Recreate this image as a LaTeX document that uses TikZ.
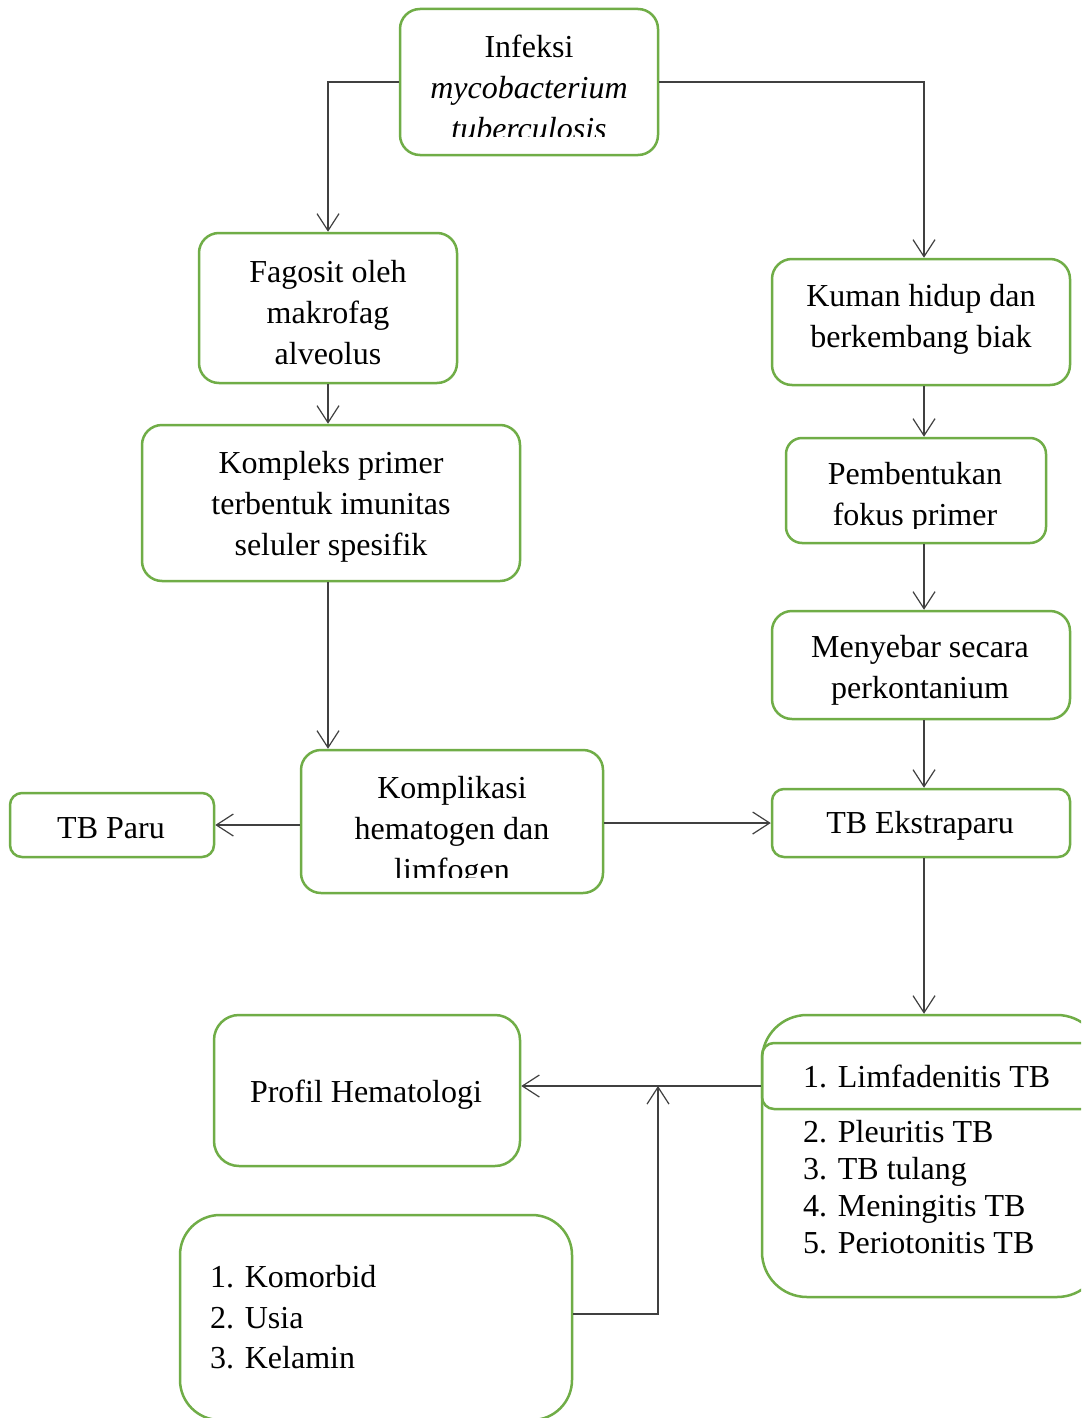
\documentclass[tikz,border=0pt]{standalone}
\usepackage{fontspec}
\setmainfont{Liberation Serif}
\usetikzlibrary{arrows.meta}
\definecolor{boxgreen}{HTML}{70AD47}
\definecolor{lin}{HTML}{404040}
\begin{document}
\begin{tikzpicture}[x=1pt,y=-1pt,
 box/.style={draw=boxgreen,line width=2.5pt,rounded corners=20pt,inner sep=0pt},
 txt/.style={font=\fontsize{32}{41}\selectfont,align=center,inner sep=0pt},
 ltxt/.style={font=\fontsize{32}{41}\selectfont,align=left,inner sep=0pt,anchor=base west},
 arr/.style={draw=lin,line width=1.2pt,-{Straight Barb[length=17pt,width=22pt,line width=1.2pt]}},
 con/.style={draw=lin,line width=1.2pt}]
\useasboundingbox (0,0) rectangle (1081,1418);
\clip (0,0) rectangle (1081,1418);
\fill[white] (0,0) rectangle (1081,1418);
% boxes
\node[box,minimum width=258pt,minimum height=146pt] (inf) at (529,82) {};
\node[box,minimum width=258pt,minimum height=150pt] (fag) at (328,308) {};
\node[box,minimum width=378pt,minimum height=156pt] (kpx) at (331,503) {};
\node[box,minimum width=302pt,minimum height=143pt] (kpl) at (452,821.5) {};
\node[box,minimum width=204pt,minimum height=64pt,rounded corners=12pt] (paru) at (112,825) {};
\node[box,minimum width=298pt,minimum height=126pt] (kum) at (921,322) {};
\node[box,minimum width=260pt,minimum height=105pt,rounded corners=16pt] (pem) at (916,490.5) {};
\node[box,minimum width=298pt,minimum height=108pt] (men) at (921,665) {};
\node[box,minimum width=298pt,minimum height=68pt,rounded corners=12pt] (eks) at (921,823) {};
\node[box,minimum width=340pt,minimum height=282pt,rounded corners=45pt] (big) at (932,1156) {};
\node[box,minimum width=340pt,minimum height=66pt,rounded corners=12pt] (lim) at (932,1076) {};
\node[box,minimum width=306pt,minimum height=151pt,rounded corners=25pt] (pro) at (367,1090.5) {};
\node[box,minimum width=392pt,minimum height=205pt,rounded corners=40pt] (kom) at (376,1317.5) {};
% texts
\begin{scope}
\clip (400,9) rectangle (658,137);
\node[txt] (infT) at (529,87) {Infeksi\\\textit{mycobacterium}\\\textit{tuberculosis}};
\end{scope}
\node[txt] (fagT) at (328,313) {Fagosit oleh\\makrofag\\alveolus};
\node[txt] (kpxT) at (331,507) {Kompleks primer\\terbentuk imunitas\\seluler spesifik};
\begin{scope}
\clip (301,750) rectangle (603,877);
\node[txt] (kplT) at (452,832) {Komplikasi\\hematogen dan\\limfogen};
\end{scope}
\node[txt] (paruT) at (111,828) {TB Paru};
\node[txt] (kumT) at (921,319) {Kuman hidup dan\\berkembang biak};
\begin{scope}
\clip (786,438) rectangle (1046,528);
\node[txt] (pemT) at (915,497) {Pembentukan\\fokus primer};
\end{scope}
\node[txt] (menT) at (920,670) {Menyebar secara\\perkontanium};
\node[txt] (eksT) at (920,826) {TB Ekstraparu};
\node[ltxt] (l1) at (803,1087) {1. Limfadenitis TB};
\node[ltxt] (l2) at (803,1142) {2. Pleuritis TB};
\node[ltxt] (l3) at (803,1179) {3. TB tulang};
\node[ltxt] (l4) at (803,1216) {4. Meningitis TB};
\node[ltxt] (l5) at (803,1253) {5. Periotonitis TB};
\node[txt] (proT) at (366,1095) {Profil Hematologi};
\node[ltxt] (k1) at (210,1287) {1. Komorbid};
\node[ltxt] (k2) at (210,1328) {2. Usia};
\node[ltxt] (k3) at (210,1368) {3. Kelamin};
% connectors
\coordinate (xr) at (924,0);
\coordinate (xl) at (328,0);
\coordinate (jn) at (658,1086);
\coordinate (jk) at (658,1314);
\draw[arr] (inf.west) -| (fag.north);
\draw[arr] (inf.east) -| (kum.north -| xr);
\draw[arr] (fag.south) -- (kpx.north -| xl);
\draw[arr] (kpx.south -| xl) -- (kpl.north -| xl);
\draw[arr] (kpl.west |- paru.east) -- (paru.east);
\draw[arr] (kpl.east |- eks.west) -- (eks.west);
\draw[arr] (kum.south -| xr) -- (pem.north -| xr);
\draw[arr] (pem.south -| xr) -- (men.north -| xr);
\draw[arr] (men.south -| xr) -- (eks.north -| xr);
\draw[arr] (eks.south -| xr) -- (big.north -| xr);
\draw[arr] (big.west |- jn) -- (pro.east |- jn);
\draw[arr] (kom.east |- jk) -- (jk) -- (jn);
\end{tikzpicture}
\end{document}
